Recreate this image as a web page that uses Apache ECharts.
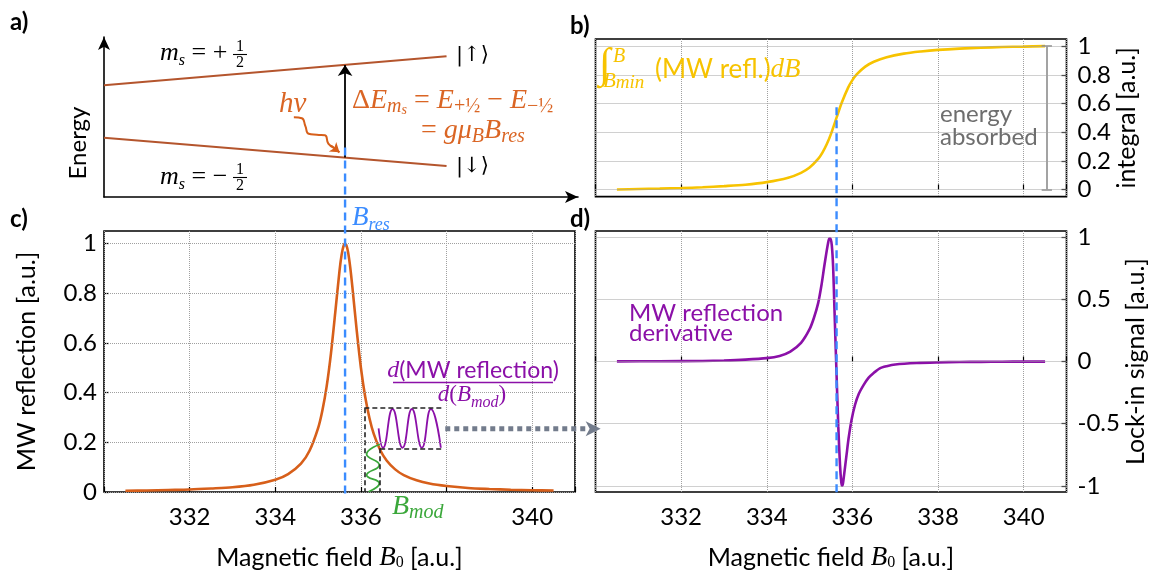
<!DOCTYPE html>
<html><head><meta charset="utf-8">
<script src="https://cdn.jsdelivr.net/npm/echarts@6/dist/echarts.min.js"></script>
<style>html,body{margin:0;padding:0;background:#fff}#c{width:1151px;height:572px}</style>
</head><body><div id="c"></div>
<script>
// ---------------- data ----------------
const B_RES = 335.63;
const xTicks = [332, 334, 336, 338, 340];
const xTickLabelsC = ['332', '334', '336', '', '340'];
const xTickLabelsD = ['332', '334', '336', '338', '340'];
const yTicksB = [0, 0.2, 0.4, 0.6, 0.8, 1];
const yLabelsB = ['0', '0.2', '0.4', '0.6', '0.8', '1'];
const yTicksC = [0, 0.2, 0.4, 0.6, 0.8, 1];
const yLabelsC = ['0', '0.2', '0.4', '0.6', '0.8', '1'];
const yTicksD = [-1, -0.5, 0, 0.5, 1];
const yLabelsD = ['-1', '-0.5', '0', '0.5', '1'];

// panel a: energy levels (field, relative energy)
const levelUpper = [[330, 0.698], [338, 0.879]];
const levelLower = [[330, 0.371], [338, 0.194]];
const transitionArrow = [[B_RES, 0.247], [B_RES, 0.825]];
const photonWave = [[334.434, 0.498], [334.62, 0.492], [334.703, 0.443], [334.78, 0.395], [334.971, 0.389], [335.16, 0.386], [335.239, 0.334], [335.373, 0.307]];
const photonHead = [[335.30, 0.322], [335.50, 0.279]];

// panel c: MW reflection (Lorentzian line)
const fieldC = [330.5, 331, 331.5, 332, 332.5, 333, 333.5, 334, 334.3, 334.6, 334.8, 335.0, 335.1, 335.2, 335.3, 335.4, 335.5, 335.55, 335.6, 335.63, 335.66, 335.7, 335.75, 335.8, 335.9, 336.0, 336.1, 336.2, 336.3, 336.45, 336.6, 336.8, 337.0, 337.3, 337.6, 338.0, 338.5, 339.0, 339.5, 340.0, 340.5];
const mwReflection = [0.005, 0.006, 0.008, 0.010, 0.014, 0.019, 0.029, 0.049, 0.072, 0.114, 0.166, 0.257, 0.328, 0.425, 0.557, 0.721, 0.890, 0.955, 0.993, 1.0, 0.993, 0.965, 0.905, 0.826, 0.653, 0.500, 0.383, 0.297, 0.234, 0.169, 0.127, 0.091, 0.068, 0.047, 0.034, 0.024, 0.016, 0.012, 0.009, 0.007, 0.006];

// panel b: integral
const fieldB = [330.5, 331, 331.5, 332, 332.5, 333, 333.5, 334, 334.5, 334.8, 335.0, 335.2, 335.3, 335.4, 335.5, 335.63, 335.75, 335.9, 336.0, 336.1, 336.3, 336.5, 336.8, 337.2, 337.6, 338, 338.5, 339, 339.5, 340, 340.5];
const integral = [0, 0.003, 0.006, 0.010, 0.015, 0.023, 0.033, 0.051, 0.082, 0.116, 0.153, 0.213, 0.257, 0.315, 0.388, 0.501, 0.605, 0.711, 0.763, 0.803, 0.857, 0.891, 0.923, 0.948, 0.963, 0.974, 0.983, 0.989, 0.994, 0.997, 1.0];
const absorbedBar = [[340.54, 0], [340.54, 1]];
const absorbedCapHalf = 0.12;

// panel d: lock-in derivative
const fieldD = [330.5, 331.5, 332.5, 333.0, 333.5, 334.0, 334.3, 334.55, 334.8, 335.0, 335.1, 335.2, 335.28, 335.34, 335.39, 335.43, 335.46, 335.49, 335.52, 335.55, 335.58, 335.62, 335.67, 335.71, 335.74, 335.76, 335.78, 335.81, 335.86, 335.91, 335.98, 336.06, 336.15, 336.26, 336.38, 336.49, 336.64, 336.8, 337.0, 337.5, 338.0, 338.5, 339.0, 339.5, 340.0, 340.5];
const lockIn = [0.001, 0.002, 0.004, 0.008, 0.015, 0.027, 0.045, 0.08, 0.15, 0.26, 0.35, 0.47, 0.62, 0.76, 0.87, 0.95, 0.99, 0.99, 0.93, 0.76, 0.43, 0.0, -0.52, -0.83, -0.97, -1.0, -0.98, -0.9, -0.76, -0.62, -0.47, -0.35, -0.26, -0.19, -0.13, -0.094, -0.055, -0.038, -0.024, -0.012, -0.007, -0.004, -0.003, -0.002, -0.001, -0.001];

// panel c: modulation sketch
const modBoxTop = [[336.08, 0.337], [337.90, 0.337]];
const modBoxBottom = [[336.45, 0.176], [337.90, 0.176]];
const modBoxLeft = [[336.08, 0.337], [336.08, 0]];
const modBoxRight = [[336.45, 0.176], [336.45, 0]];
const modWaveField = [[336.445, 0.192], [336.133, 0.152], [336.429, 0.109], [336.133, 0.068], [336.429, 0.035], [336.18, 0.001]];
const modWaveSignal = [[336.413, 0.256], [336.517, 0.178], [336.739, 0.334], [336.972, 0.178], [337.191, 0.334], [337.424, 0.178], [337.634, 0.334], [337.867, 0.178]];
const linkFromC = [337.97, 0.254];
const linkToD = [330.12, -0.54];

// ---------------- styles ----------------
const SANS = 'Lato, "Noto Sans", sans-serif';
const SERIF = '"Liberation Serif", "DejaVu Serif", serif';
const COL = {
  brown: '#b4552d', orange: '#d75f1a', ortext: '#da6524', blue: '#3b8cff',
  purple: '#8b10a8', yellow: '#f7c300', green: '#3aa73a', slate: '#737c8c', gray: '#6e6e6e'
};
const zip = (xs, ys) => xs.map((x, i) => [x, ys[i]]);
const gridStyle = { show: true, borderColor: '#000', borderWidth: 1.6, backgroundColor: 'transparent', containLabel: false, outerBoundsMode: 'none' };
const dotted = { type: 'dotted', color: '#a0a0a0', width: 1 };
const nameRich = {
  t: { fontFamily: SANS, fontSize: 25, color: '#000' },
  i: { fontFamily: SERIF, fontStyle: 'italic', fontSize: 27, color: '#000' },
  sub: { fontFamily: SERIF, fontSize: 16, color: '#000', verticalAlign: 'bottom', lineHeight: 14 }
};

function xAxis(grid, labels) {
  return {
    type: 'value', gridIndex: grid, min: 330, max: 341, interval: 2,
    axisLine: { show: false },
    axisTick: { show: true, inside: true, length: 5, lineStyle: { color: '#000', width: 1.2 } },
    splitLine: { show: true, lineStyle: dotted },
    axisLabel: {
      show: !!labels, margin: 13, fontFamily: SANS, fontSize: 24, color: '#000',
      formatter: v => { if (!labels) return ''; const k = xTicks.findIndex(t => Math.abs(t - v) < 1e-9); return k < 0 ? '' : labels[k]; }
    },
    name: labels ? '{t|Magnetic field }{i|B}{sub|0}{t| [a.u.]}' : '',
    nameLocation: 'middle', nameGap: 52,
    nameTextStyle: { rich: nameRich }
  };
}
function yAxis(grid, min, max, ticks, labels, pos, name, gap) {
  return {
    type: 'value', gridIndex: grid, min, max, position: pos,
    axisLine: { show: false },
    axisTick: { show: true, inside: true, length: 5, lineStyle: { color: '#000', width: 1.2 }, customValues: ticks },
    splitLine: { show: false },
    axisLabel: {
      customValues: ticks, margin: pos === 'left' ? 7 : 11,
      fontFamily: SANS, fontSize: 24, color: '#000',
      formatter: v => { const k = ticks.findIndex(t => Math.abs(t - v) < 1e-9); return k < 0 ? '' : labels[k]; }
    },
    name, nameLocation: 'middle', nameRotate: 90, nameGap: gap,
    nameTextStyle: { fontFamily: SANS, fontSize: 25, color: '#000' }
  };
}
const arrowAxisLine = { show: true, onZero: false, symbol: ['none', 'arrow'], symbolSize: [9, 13], lineStyle: { color: '#000', width: 1.6 } };

function seg(name, xi, coords, color, width, type, arrow) {
  return {
    type: 'lines', coordinateSystem: 'cartesian2d', xAxisIndex: xi, yAxisIndex: xi, name,
    polyline: coords.length > 2, silent: true,
    symbol: arrow ? ['none', 'arrow'] : ['none', 'none'], symbolSize: arrow || 0,
    lineStyle: { color, width, type: type || 'solid', opacity: 1, cap: 'butt' },
    data: [{ coords }], z: 4
  };
}
function curve(name, xi, data, color, width, smooth) {
  return {
    type: 'line', name, xAxisIndex: xi, yAxisIndex: xi, data, showSymbol: false, symbol: 'none',
    smooth: smooth, lineStyle: { color, width }, silent: true, z: 3
  };
}
function hGrid(xi, ticks) {
  return {
    type: 'line', name: 'grid' + xi, xAxisIndex: xi, yAxisIndex: xi, data: [], silent: true, z: 1,
    markLine: { silent: true, symbol: ['none', 'none'], label: { show: false }, lineStyle: dotted, animation: false,
      data: ticks.map(v => ({ yAxis: v })) }
  };
}

const chart = echarts.init(document.getElementById('c'), null, { renderer: 'canvas' });
const option = {
  animation: false,
  backgroundColor: '#fff',
  grid: [
    { left: 104, top: 37, width: 474, height: 160, show: false, containLabel: false, outerBoundsMode: 'none' },
    Object.assign({ left: 595.5, top: 39, width: 471, height: 157.6 }, gridStyle),
    Object.assign({ left: 104, top: 231, width: 471, height: 261 }, gridStyle),
    Object.assign({ left: 595.5, top: 231, width: 471, height: 261 }, gridStyle)
  ],
  xAxis: [
    { type: 'value', gridIndex: 0, min: 330, max: 341.07, axisLine: arrowAxisLine, axisTick: { show: false }, axisLabel: { show: false }, splitLine: { show: false } },
    xAxis(1, null),
    xAxis(2, xTickLabelsC),
    xAxis(3, xTickLabelsD)
  ],
  yAxis: [
    { type: 'value', gridIndex: 0, min: 0, max: 1, axisLine: arrowAxisLine, axisTick: { show: false }, axisLabel: { show: false }, splitLine: { show: false } },
    yAxis(1, -0.05, 1.05, yTicksB, yLabelsB, 'right', 'integral [a.u.]', 48),
    yAxis(2, 0, 1.05, yTicksC, yLabelsC, 'left', 'MW reflection [a.u.]', 65),
    yAxis(3, -1.05, 1.05, yTicksD, yLabelsD, 'right', 'Lock-in signal [a.u.]', 48)
  ],
  series: [
    hGrid(1, yTicksB), hGrid(2, yTicksC), hGrid(3, yTicksD),
    curve('upper level', 0, levelUpper, COL.brown, 2, false),
    curve('lower level', 0, levelLower, COL.brown, 2, false),
    seg('transition', 0, transitionArrow, '#000', 1.8, 'solid', 11),
    curve('photon', 0, photonWave, COL.orange, 2, 0.5),
    seg('photon head', 0, photonHead, COL.orange, 2, 'solid', 9),

    curve('integral', 1, zip(fieldB, integral), COL.yellow, 2.6, 0.3),
    seg('absorbed', 1, absorbedBar, '#8c8c8c', 1.6),
    seg('cap0', 1, [[absorbedBar[0][0] - absorbedCapHalf, 0], [absorbedBar[0][0] + absorbedCapHalf, 0]], '#8c8c8c', 1.6),
    seg('cap1', 1, [[absorbedBar[0][0] - absorbedCapHalf, 1], [absorbedBar[0][0] + absorbedCapHalf, 1]], '#8c8c8c', 1.6),

    curve('MW reflection', 2, zip(fieldC, mwReflection), COL.orange, 2.6, 0.3),
    seg('box top', 2, modBoxTop, '#222', 1.6, [5, 3]),
    seg('box bottom', 2, modBoxBottom, '#222', 1.6, [5, 3]),
    seg('box left', 2, modBoxLeft, '#222', 1.6, [5, 3]),
    seg('box right', 2, modBoxRight, '#222', 1.6, [5, 3]),
    curve('Bmod', 2, modWaveField, COL.green, 1.8, 0.5),
    curve('signal', 2, modWaveSignal, COL.purple, 1.8, 0.5),

    curve('derivative', 3, zip(fieldD, lockIn), COL.purple, 2.6, 0.25)
  ]
};
chart.setOption(option);

// ---------------- annotations ----------------
const g = [];
function txt(x, y, text, style, extra) {
  g.push(Object.assign({ type: 'text', x, y, z: 20, silent: true,
    style: Object.assign({ text, fill: '#000', align: 'left', verticalAlign: 'middle' }, style) }, extra || {}));
}
function frac(cx, barY, color, size) {
  txt(cx, barY - 8, '1', { fontFamily: SERIF, fontSize: size, fill: color, align: 'center' });
  txt(cx, barY + 8.5, '2', { fontFamily: SERIF, fontSize: size, fill: color, align: 'center' });
  g.push({ type: 'line', z: 20, silent: true, shape: { x1: cx - 7, y1: barY, x2: cx + 7, y2: barY }, style: { stroke: color, lineWidth: 1.1 } });
}
const mathRich = (color, size, subScale) => {
  const ss = Math.round(size * (subScale || 0.62));
  return {
    i: { fontFamily: SERIF, fontStyle: 'italic', fontSize: size, fill: color, color, lineHeight: 32 },
    r: { fontFamily: SERIF, fontSize: size, fill: color, color, lineHeight: 32 },
    s: { fontFamily: SANS, fontSize: size - 1, fill: color, color, lineHeight: 32 },
    sub: { fontFamily: SERIF, fontStyle: 'italic', fontSize: ss, fill: color, color, verticalAlign: 'bottom', lineHeight: ss + 2 },
    subr: { fontFamily: SERIF, fontSize: ss, fill: color, color, verticalAlign: 'bottom', lineHeight: ss + 2 }
  };
};

// panel labels
const bold = { fontFamily: SANS, fontSize: 24, fontWeight: 'bold' };
txt(10, 22, 'a)', bold); txt(570, 26, 'b)', bold); txt(10, 219, 'c)', bold); txt(570, 219, 'd)', bold);

// panel a
txt(0, 0, 'Energy', { fontFamily: SANS, fontSize: 24, align: 'center' }, { x: 78, y: 143, rotation: Math.PI / 2 });
txt(160, 53, '{i|m}{sub|s}{r| = +}', { rich: mathRich('#000', 26) });
frac(240, 54.5, '#000', 16);
txt(160, 177, '{i|m}{sub|s}{r| = −}', { rich: mathRich('#000', 26) });
frac(240, 177.5, '#000', 16);
txt(456, 56, '|↑⟩', { fontFamily: '"DejaVu Serif", serif', fontSize: 21 });
txt(456, 167, '|↓⟩', { fontFamily: '"DejaVu Serif", serif', fontSize: 21 });
txt(279, 104, 'hν', { fontFamily: SERIF, fontStyle: 'italic', fontSize: 29, fill: COL.ortext });
txt(352, 101, '{r|Δ}{i|E}{sub|m}{subs|s}{r| = }{i|E}{subr|+½}{r| − }{i|E}{subr|−½}',
  { rich: Object.assign(mathRich(COL.ortext, 28, 0.7), { subs: { fontFamily: SERIF, fontStyle: 'italic', fontSize: 14, fill: COL.ortext, verticalAlign: 'bottom', lineHeight: 12 } }) });
txt(421, 131, '{r|= }{i|gμ}{sub|B}{i|B}{sub|res}', { rich: mathRich(COL.ortext, 28, 0.7) });
txt(352, 218, '{i|B}{sub|res}', { rich: mathRich(COL.blue, 27, 0.68) });

// panel b
txt(599, 66, '∫', { fontFamily: SERIF, fontStyle: 'italic', fontSize: 42, fill: COL.yellow });
txt(613, 57, 'B', { fontFamily: SERIF, fontStyle: 'italic', fontSize: 20, fill: COL.yellow });
txt(603, 81, '{i|B}{sub|min}', { rich: { i: { fontFamily: SERIF, fontStyle: 'italic', fontSize: 21, fill: COL.yellow, lineHeight: 22 }, sub: { fontFamily: SERIF, fontStyle: 'italic', fontSize: 19, fill: COL.yellow, verticalAlign: 'bottom', lineHeight: 15 } } });
txt(655, 70, '{s|(MW refl.)}{i|dB}', { rich: mathRich(COL.yellow, 27) });
txt(940, 126, 'energy\nabsorbed', { fontFamily: SANS, fontSize: 24, fill: COL.gray, lineHeight: 23 });

// panel c
txt(473, 371, '{i|d}{s|(MW reflection)}', { rich: mathRich(COL.purple, 24), align: 'center' });
g.push({ type: 'line', z: 20, silent: true, shape: { x1: 393, y1: 382.5, x2: 553, y2: 382.5 }, style: { stroke: COL.purple, lineWidth: 1.3 } });
txt(472, 395, '{i|d}{r|(}{i|B}{sub|mod}{r|)}', { rich: mathRich(COL.purple, 23, 0.68), align: 'center' });
txt(392, 507, '{i|B}{sub|mod}', { rich: mathRich(COL.green, 28, 0.7) });

// panel d
txt(629, 323, 'MW reflection\nderivative', { fontFamily: SANS, fontSize: 24, fill: COL.purple, lineHeight: 20 });

// lines crossing panels, positioned through the axes
const pA = chart.convertToPixel({ xAxisIndex: 0, yAxisIndex: 0 }, [B_RES, 0.31]);
const pC = chart.convertToPixel({ xAxisIndex: 2, yAxisIndex: 2 }, [B_RES, -0.02]);
const pB = chart.convertToPixel({ xAxisIndex: 1, yAxisIndex: 1 }, [B_RES, 0.574]);
const pD = chart.convertToPixel({ xAxisIndex: 3, yAxisIndex: 3 }, [B_RES, -1.083]);
const dashBlue = { stroke: COL.blue, lineWidth: 2.4, lineDash: [8, 5] };
g.push({ type: 'line', z: 15, silent: true, shape: { x1: pA[0], y1: pA[1], x2: pC[0], y2: pC[1] }, style: dashBlue });
g.push({ type: 'line', z: 15, silent: true, shape: { x1: pB[0], y1: pB[1], x2: pD[0], y2: pD[1] }, style: dashBlue });

const l0 = chart.convertToPixel({ xAxisIndex: 2, yAxisIndex: 2 }, linkFromC);
const l1 = chart.convertToPixel({ xAxisIndex: 3, yAxisIndex: 3 }, linkToD);
const headLen = 15, headHalf = 7.5;
g.push({ type: 'line', z: 15, silent: true, shape: { x1: l0[0], y1: l0[1], x2: l1[0] - headLen, y2: l0[1] }, style: { stroke: COL.slate, lineWidth: 5, lineDash: [5, 4] } });
g.push({ type: 'polygon', z: 15, silent: true, shape: { points: [[l1[0], l0[1]], [l1[0] - headLen, l0[1] - headHalf], [l1[0] - headLen + 4, l0[1]], [l1[0] - headLen, l0[1] + headHalf]] }, style: { fill: COL.slate } });

chart.setOption({ graphic: g });
</script></body></html>
